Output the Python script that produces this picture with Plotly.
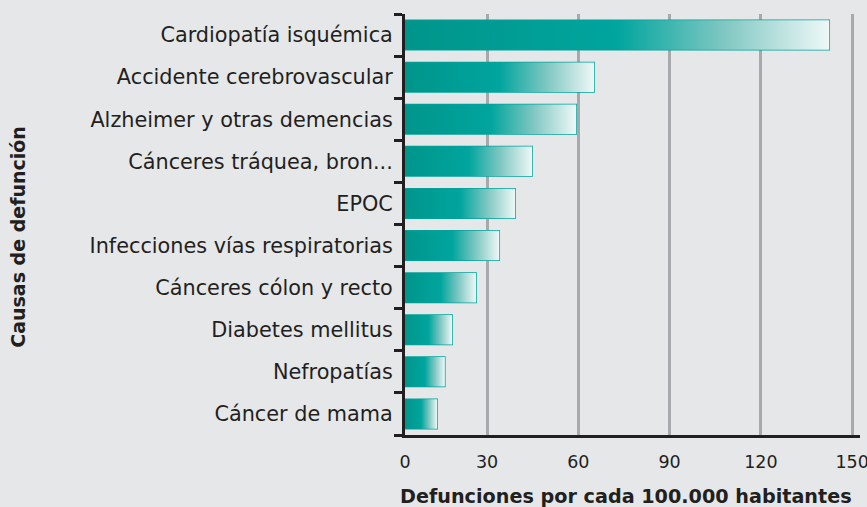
import plotly.graph_objects as go

# ─── Datos ────────────────────────────────────────────────────────────────────
causas = [
    "Cardiopatía isquémica",
    "Accidente cerebrovascular",
    "Alzheimer y otras demencias",
    "Cánceres tráquea, bron...",
    "EPOC",
    "Infecciones vías respiratorias",
    "Cánceres cólon y recto",
    "Diabetes mellitus",
    "Nefropatías",
    "Cáncer de mama",
]
valores = [142.5, 65.2, 59.3, 44.8, 39.2, 34.0, 26.4, 18.5, 16.1, 13.6]
x_ticks = [0, 30, 60, 90, 120, 150]

# ─── Estilo ───────────────────────────────────────────────────────────────────
FONDO = "#e6e7e8"
TEXTO = "#231f20"
TEAL = "#00a39b"
GRID = "#a7a9ac"
FUENTE = "DejaVu Sans, Open Sans, sans-serif"
GRADIENTE = [
    [0.0, "#00958b"],
    [0.5, "#00a59e"],
    [0.75, "#7fc7c2"],
    [1.0, "#eef8f7"],
]
ANCHO = 0.7
X_MIN, X_MAX = 3.0, 152.6   # el eje del original arranca un poco después del 0

fig = go.Figure()

# relleno degradado de cada barra
for i, v in enumerate(valores):
    y0, y1 = i - ANCHO / 2, i + ANCHO / 2
    fig.add_trace(go.Scatter(
        x=[X_MIN, v, v, X_MIN, X_MIN],
        y=[y0, y0, y1, y1, y0],
        mode="lines",
        fill="toself",
        fillgradient=dict(type="horizontal", colorscale=GRADIENTE),
        line=dict(width=0),
        hoverinfo="skip",
        showlegend=False,
    ))

# barras (contorno)
fig.add_trace(go.Bar(
    x=valores,
    y=list(range(len(causas))),
    orientation="h",
    width=ANCHO,
    marker=dict(color="rgba(0,0,0,0)", line=dict(color=TEAL, width=1.5)),
    showlegend=False,
))

fig.update_layout(
    width=867, height=507,
    paper_bgcolor=FONDO,
    plot_bgcolor=FONDO,
    font=dict(family=FUENTE, color=TEXTO),
    margin=dict(l=405, r=7, t=14, b=72),
    showlegend=False,
)

fig.update_xaxes(
    range=[X_MIN, X_MAX],
    automargin=False,
    tickvals=[X_MIN] + x_ticks[1:],
    ticktext=[str(t) for t in x_ticks],
    tickfont=dict(size=17.5, color=TEXTO),
    ticks="",
    ticklabelstandoff=9,
    ticklabeloverflow="allow",
    showgrid=True, gridcolor=GRID, gridwidth=2.5,
    zeroline=False,
    showline=True, linecolor=TEXTO, linewidth=3,
)

fig.update_yaxes(
    range=[len(causas) - 0.5, -0.5],
    automargin=False,
    tickvals=list(range(len(causas))),
    ticktext=causas,
    tickfont=dict(size=20.8, color=TEXTO),
    ticks="",
    ticklabelstandoff=5,
    minor=dict(ticks="outside", tick0=0.5, dtick=1, ticklen=8,
               tickwidth=3, tickcolor=TEXTO, showgrid=False),
    showgrid=False,
    zeroline=False,
    showline=True, linecolor=TEXTO, linewidth=3,
)

# títulos de ejes
fig.add_annotation(
    text="<b>Causas de defunción</b>",
    xref="paper", yref="paper",
    x=-0.8505, y=0.471,
    xanchor="center", yanchor="middle",
    textangle=-90,
    showarrow=False,
    font=dict(size=19, color=TEXTO),
)
fig.add_annotation(
    text="<b>Defunciones por cada 100.000 habitantes</b>",
    xref="paper", yref="paper",
    x=0.4857, y=-0.1449,
    xanchor="center", yanchor="middle",
    showarrow=False,
    font=dict(size=19.2, color=TEXTO),
)

fig.write_html(
    "out.html",
    config={"displayModeBar": False},
    post_script="document.body.style.margin='0';",
)
